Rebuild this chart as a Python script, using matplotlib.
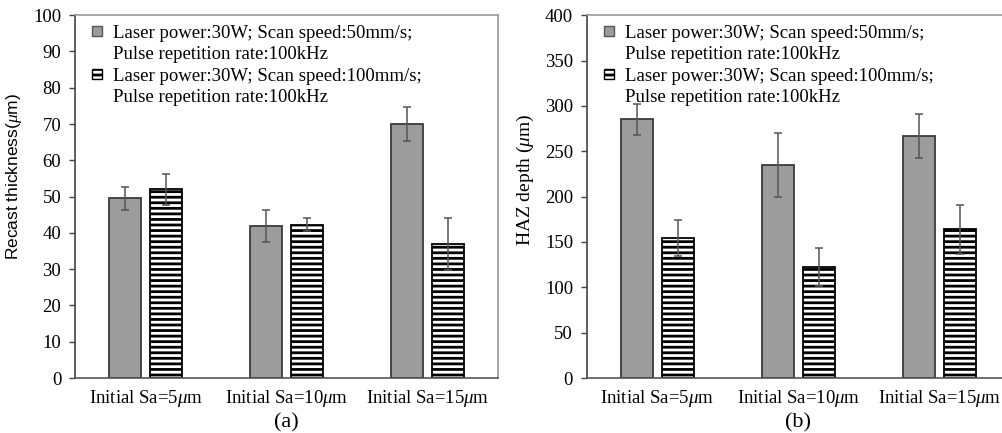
import numpy as np
import matplotlib
matplotlib.use('Agg')
import matplotlib.pyplot as plt
from matplotlib.patches import Patch

plt.rcParams['font.family'] = 'Liberation Serif'
plt.rcParams['mathtext.fontset'] = 'custom'
plt.rcParams['mathtext.rm'] = 'Liberation Serif'
plt.rcParams['mathtext.it'] = 'Liberation Serif:italic'
plt.rcParams['hatch.linewidth'] = 2.0

categories = [r'Initial Sa=5$\mu$m', r'Initial Sa=10$\mu$m', r'Initial Sa=15$\mu$m']
label_50 = ['Laser power:30W; Scan speed:50mm/s;', 'Pulse repetition rate:100kHz']
label_100 = ['Laser power:30W; Scan speed:100mm/s;', 'Pulse repetition rate:100kHz']

# (a) recast thickness
recast_50 = [49.5, 42.0, 70.0]
recast_50_err = [3.2, 4.4, 4.6]
recast_100 = [52.0, 42.3, 37.0]
recast_100_err = [4.3, 1.8, 7.2]

# (b) HAZ depth
haz_50 = [285, 235, 267]
haz_50_err = [17, 35, 24]
haz_100 = [154, 122, 164]
haz_100_err = [20, 21, 27]

fig = plt.figure(figsize=(10.03, 4.33), dpi=100)
ax1 = fig.add_axes([0.0748, 0.127, 0.4217, 0.838])
ax2 = fig.add_axes([0.5852, 0.127, 0.4217, 0.838])

x = np.arange(len(categories))
w = 0.227
off = 0.143

panels = [
    (ax1, recast_50, recast_50_err, recast_100, recast_100_err, 100, 10,
     r'Recast thickness($\mu$m)', 'Liberation Sans', 12.5, (-0.12, 0.555), '(a)'),
    (ax2, haz_50, haz_50_err, haz_100, haz_100_err, 400, 50,
     r'HAZ depth ($\mu$m)', 'Liberation Serif', 14, (-0.12, 0.545), '(b)'),
]

for ax, v1, e1, v2, e2, ymax, step, ylab, yfam, ysize, ypos, tag in panels:
    ax.bar(x - off, v1, w, color='#9c9c9c', edgecolor='#3a3a3a', linewidth=1.3, zorder=2)
    ax.bar(x + off, v2, w, color='white', edgecolor='black', hatch='---', linewidth=1.3, zorder=2)
    ax.errorbar(x - off, v1, yerr=e1, fmt='none', ecolor='#555555', elinewidth=1.1,
                capsize=3, capthick=1.1, zorder=3)
    ax.errorbar(x + off, v2, yerr=e2, fmt='none', ecolor='#555555', elinewidth=1.1,
                capsize=3, capthick=1.1, zorder=3)

    ax.set_xlim(-0.5, 2.5)
    ax.set_ylim(0, ymax)
    ax.set_yticks(np.arange(0, ymax + 1, step))
    ax.set_xticks(x)
    ax.set_xticklabels(categories, fontsize=13.5)
    ax.tick_params(axis='x', length=0, pad=7)
    ax.tick_params(axis='y', labelsize=13.5, length=4, width=1, color='#444444', pad=6)
    ax.set_ylabel(ylab, fontsize=ysize, family=yfam)
    ax.yaxis.set_label_coords(*ypos)

    bb = ax.get_position()
    fig.text((bb.x0 + bb.x1) / 2, 0.002, tag, ha='center', va='bottom', fontsize=16)

    ax.spines['left'].set_color('#444444')
    ax.spines['bottom'].set_color('#555555')
    ax.spines['top'].set_color('#999999')
    ax.spines['right'].set_color('#999999')
    for s in ax.spines.values():
        s.set_linewidth(1.2)

    handles = [
        Patch(facecolor='#9c9c9c', edgecolor='#555555', linewidth=1),
        Patch(facecolor='none', edgecolor='none'),
        Patch(facecolor='white', edgecolor='black', hatch='---', linewidth=1),
        Patch(facecolor='none', edgecolor='none'),
    ]
    labels = label_50 + label_100
    ax.legend(handles, labels, loc='upper left', bbox_to_anchor=(0.01, 1.01), frameon=False,
              fontsize=13.5, handlelength=0.5, handleheight=0.5, handletextpad=0.6,
              labelspacing=0.24, borderaxespad=0.3)

fig.savefig('out.png', dpi=100)
